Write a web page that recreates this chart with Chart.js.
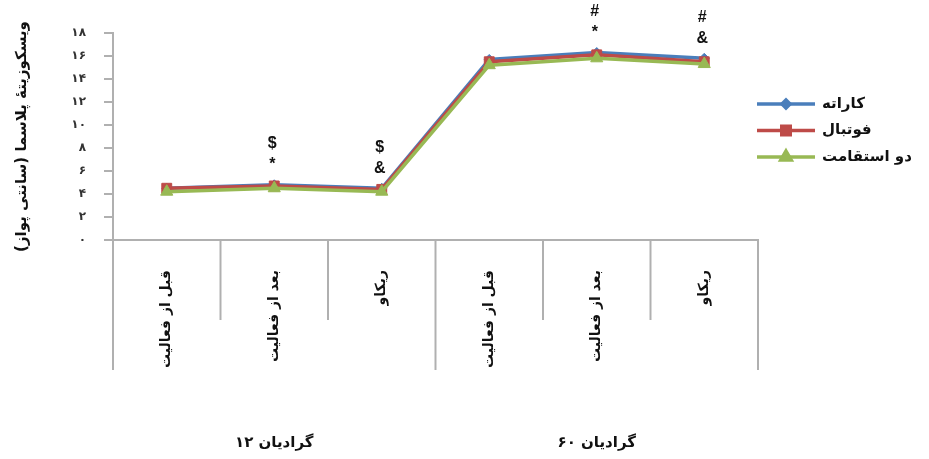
<!DOCTYPE html>
<html>
<head>
<meta charset="utf-8">
<script src="https://cdn.jsdelivr.net/npm/chart.js@4.4.1/dist/chart.umd.min.js"></script>
<style>
    html, body { margin: 0; padding: 0; background: #fff; }
    #wrap { width: 929px; height: 459px; }
</style>
</head>
<body>
<div id="wrap"><canvas id="viscosityChart" width="929" height="459"></canvas></div>
<script>
// Chart data
const categories = ['قبل از فعالیت', 'بعد از فعالیت', 'ریکاو', 'قبل از فعالیت', 'بعد از فعالیت', 'ریکاو'];
const groupLabels = ['گرادیان ۱۲', 'گرادیان ۶۰'];
const groupStarts = [0, 3];
const groupEnds = [2, 5];
const seriesNames = ['کاراته', 'فوتبال', 'دو استقامت'];
const karate = [4.5, 4.8, 4.5, 15.7, 16.3, 15.8];
const football = [4.5, 4.7, 4.4, 15.5, 16.1, 15.5];
const endurance = [4.2, 4.5, 4.2, 15.2, 15.8, 15.3];
const yTicks = [0, 2, 4, 6, 8, 10, 12, 14, 16, 18];
const markTop = ['', '$', '$', '', '#', '#'];
const markBottom = ['', '*', '&', '', '*', '&'];

const ARABIC_FONT = '"DejaVu Sans", sans-serif';

// Persian digits for tick labels
function toFa(n) {
    return String(n).replace(/\d/g, d => '۰۱۲۳۴۵۶۷۸۹'[d]);
}

const colors = ['#4A7EBB', '#BE4B48', '#98B954'];
const pointStyles = ['rectRot', 'rect', 'triangle'];
const pointSizes = [5, 7, 7];

// Significance marks above points
const marksPlugin = {
    id: 'marks',
    afterDatasetsDraw(chart) {
        const { ctx, scales: { x, y } } = chart;
        ctx.save();
        ctx.fillStyle = '#111';
        ctx.textAlign = 'center';
        ctx.textBaseline = 'middle';
        ctx.font = 'bold 16px "Liberation Sans", sans-serif';
        categories.forEach((c, i) => {
            const top = Math.max(karate[i], football[i], endurance[i]);
            const px = x.getPixelForValue(i) - 2;
            const py = y.getPixelForValue(top);
            if (markBottom[i]) ctx.fillText(markBottom[i], px, py - 20);
            if (markTop[i]) ctx.fillText(markTop[i], px, py - 41);
        });
        ctx.restore();
    }
};

// Category dividers below the axis and group labels
const groupsPlugin = {
    id: 'groups',
    afterDraw(chart) {
        const { ctx, chartArea, scales: { x } } = chart;
        const half = (x.getPixelForValue(1) - x.getPixelForValue(0)) / 2;
        ctx.save();
        ctx.strokeStyle = '#b0b0b0';
        ctx.lineWidth = 2;
        categories.forEach((c, i) => {
            const edge = x.getPixelForValue(i) - half;
            const isGroupEdge = groupStarts.includes(i);
            ctx.beginPath();
            ctx.moveTo(edge, chartArea.bottom);
            ctx.lineTo(edge, chartArea.bottom + (isGroupEdge ? 130 : 80));
            ctx.stroke();
        });
        const last = x.getPixelForValue(categories.length - 1) + half;
        ctx.beginPath();
        ctx.moveTo(last, chartArea.bottom);
        ctx.lineTo(last, chartArea.bottom + 130);
        ctx.stroke();

        ctx.fillStyle = '#111';
        ctx.font = 'bold 15px ' + ARABIC_FONT;
        ctx.textAlign = 'center';
        ctx.textBaseline = 'middle';
        groupLabels.forEach((g, k) => {
            const cx = (x.getPixelForValue(groupStarts[k]) + x.getPixelForValue(groupEnds[k])) / 2;
            ctx.fillText(g, cx, chartArea.bottom + 203);
        });
        ctx.restore();
    }
};

// Legend with line + marker
const legendPlugin = {
    id: 'sideLegend',
    afterDraw(chart) {
        const { ctx } = chart;
        ctx.save();
        chart.data.datasets.forEach((ds, i) => {
            const rowY = 104 + i * 26.5;
            ctx.strokeStyle = ds.borderColor;
            ctx.lineWidth = 3.5;
            ctx.beginPath();
            ctx.moveTo(757, rowY);
            ctx.lineTo(815, rowY);
            ctx.stroke();
            Chart.helpers.drawPoint(ctx, {
                pointStyle: ds.pointStyle,
                radius: ds.pointRadius - 1,
                borderWidth: 1,
                rotation: 0
            }, 786, rowY);
            ctx.fillStyle = ds.borderColor;
            ctx.fill();
            ctx.fillStyle = '#111';
            ctx.font = 'bold 15px ' + ARABIC_FONT;
            ctx.textAlign = 'left';
            ctx.textBaseline = 'middle';
            ctx.fillText(ds.label, 822, rowY);
        });
        ctx.restore();
    }
};

const seriesData = [karate, football, endurance];

new Chart(document.getElementById('viscosityChart'), {
    type: 'line',
    data: {
        labels: categories,
        datasets: seriesNames.map((name, i) => ({
            label: name,
            data: seriesData[i],
            borderColor: colors[i],
            backgroundColor: colors[i],
            borderWidth: 3.5,
            pointStyle: pointStyles[i],
            pointRadius: pointSizes[i],
            pointBorderWidth: 1,
            pointBackgroundColor: colors[i],
            pointBorderColor: colors[i],
            tension: 0,
            order: 3 - i
        }))
    },
    options: {
        responsive: false,
        animation: false,
        layout: {
            padding: { top: 33, right: 171, left: 0, bottom: 0 }
        },
        scales: {
            x: {
                offset: true,
                grid: { display: false, offset: true },
                border: { color: '#b0b0b0', width: 2 },
                ticks: {
                    color: '#111',
                    font: { family: ARABIC_FONT, weight: 'bold', size: 14 },
                    minRotation: 90,
                    maxRotation: 90,
                    padding: 22,
                    autoSkip: false
                },
                afterFit(scale) { scale.height = 219; }
            },
            y: {
                min: 0,
                max: 18,
                afterBuildTicks(scale) {
                    scale.ticks = yTicks.map(v => ({ value: v }));
                },
                grid: {
                    drawOnChartArea: false,
                    tickLength: 9,
                    color: '#b0b0b0',
                    lineWidth: 2
                },
                border: { color: '#b0b0b0', width: 2 },
                ticks: {
                    color: '#333',
                    font: { family: ARABIC_FONT, weight: 'bold', size: 12 },
                    padding: 18,
                    callback: v => toFa(v)
                },
                title: {
                    display: true,
                    text: 'ویسکوزیتهٔ پلاسما (سانتی پواز)',
                    color: '#111',
                    font: { family: ARABIC_FONT, weight: 'bold', size: 15 },
                    padding: { top: 13, bottom: 0 }
                },
                afterFit(scale) { scale.width = 113; }
            }
        },
        plugins: {
            legend: { display: false },
            tooltip: { enabled: false }
        }
    },
    plugins: [marksPlugin, groupsPlugin, legendPlugin]
});
</script>
</body>
</html>
